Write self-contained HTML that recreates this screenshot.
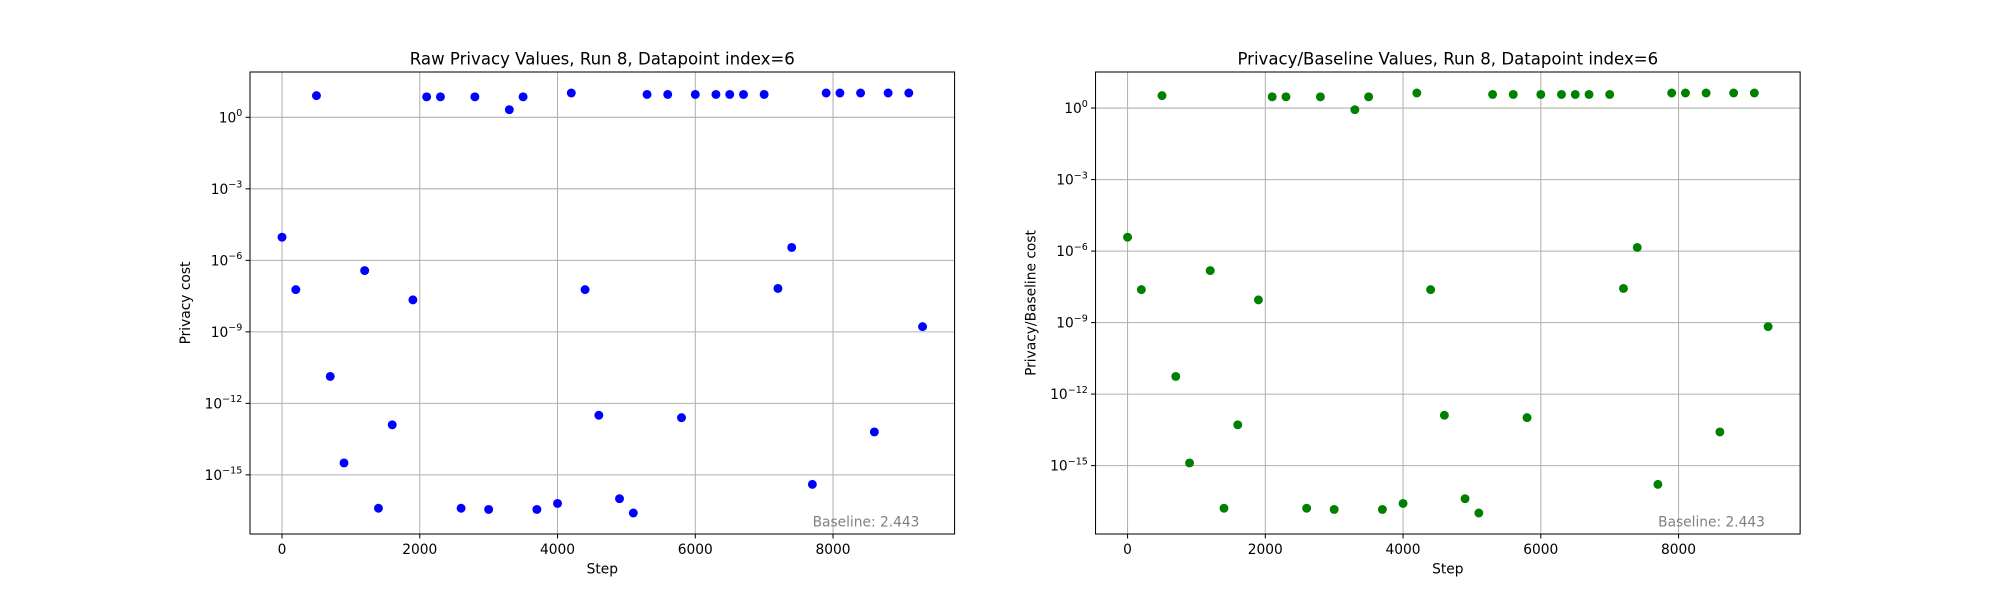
<!DOCTYPE html>
<html><head><meta charset="utf-8"><style>
html,body{margin:0;padding:0;background:#fff;}
svg{display:block;font-family:"DejaVu Sans","Liberation Sans",sans-serif;}
</style></head><body>
<svg id="fig" width="2000" height="600" viewBox="0 0 1568 470" preserveAspectRatio="none" xmlns="http://www.w3.org/2000/svg"></svg>
<script>
const steps = [0,200,500,700,900,1200,1400,1600,1900,2100,2300,2600,2800,3000,3300,3500,3700,4000,4200,4400,4600,4900,5100,5300,5600,5800,6000,6300,6500,6700,7000,7200,7400,7700,7900,8100,8400,8600,8800,9100,9300];
const rawLog10 = [-5.03,-7.23,0.91,-10.87,-14.5,-6.43,-16.4,-12.9,-7.66,0.86,0.86,-16.4,0.86,-16.45,0.32,0.86,-16.45,-16.2,1.02,-7.23,-12.5,-16.0,-16.6,0.96,0.96,-12.6,0.96,0.96,0.96,0.96,0.96,-7.18,-5.46,-15.4,1.02,1.02,1.02,-13.2,1.02,1.02,-8.78];
const baseline = 2.443;
const xTicks = [0,2000,4000,6000,8000];
const yTickExps = [0,-3,-6,-9,-12,-15];

const NS="http://www.w3.org/2000/svg";
const svg=document.getElementById('fig');
function mk(tag,attrs,parent){const e=document.createElementNS(NS,tag);for(const k in attrs)e.setAttribute(k,attrs[k]);(parent||svg).appendChild(e);return e;}

function drawPanel(prefix,left,title,ylabel,vals,color){
  const top=56.4,bottom=418.3,w=552.4,right=left+w;
  const xmin=Math.min(...steps),xmax=Math.max(...steps),xm=(xmax-xmin)*0.05;
  const ymin=Math.min(...vals),ymax=Math.max(...vals),ym=(ymax-ymin)*0.05;
  const X=v=>left+(v-(xmin-xm))/((xmax+xm)-(xmin-xm))*w;
  const Y=v=>bottom-(v-(ymin-ym))/((ymax+ym)-(ymin-ym))*(bottom-top);
  const g=mk('g',{});
  
  
  xTicks.forEach(t=>{
    const l=mk('line',{x1:X(t),x2:X(t),y1:top,y2:bottom,stroke:'#b0b0b0','stroke-width':0.8},g);
    
    mk('line',{x1:X(t),x2:X(t),y1:bottom,y2:bottom+3.5,stroke:'#000','stroke-width':0.8},g);
    const tx=mk('text',{x:X(t),y:bottom+15.5,'font-size':10.8,'text-anchor':'middle'},g);
    tx.textContent=t;
    
  });
  yTickExps.forEach(e=>{
    const y=Y(e);
    const l=mk('line',{x1:left,x2:right,y1:y,y2:y,stroke:'#b0b0b0','stroke-width':0.8},g);
    
    mk('line',{x1:left-3.5,x2:left,y1:y,y2:y,stroke:'#000','stroke-width':0.8},g);
    const tx=mk('text',{x:left-6,y:y+4,'font-size':10.8,'text-anchor':'end'},g);
    tx.innerHTML='10<tspan dy="-5" font-size="7.5">'+(e<0?'\u2212'+(-e):e)+'</tspan>';
    
  });
  steps.forEach((s,i)=>{
    const c=mk('circle',{cx:X(s),cy:Y(vals[i]),r:3.5,fill:color},g);
    
    
  });
  const fr=mk('rect',{x:left,y:top,width:w,height:bottom-top,fill:'none',stroke:'#000','stroke-width':0.8},g);
  
  const tt=mk('text',{x:left+w/2,y:top-6,'font-size':13,'text-anchor':'middle'},g);
  tt.textContent=title;
  const xl=mk('text',{x:left+w/2,y:bottom+31,'font-size':10.8,'text-anchor':'middle'},g);
  xl.textContent='Step';
  const yx=left-47,yy=(top+bottom)/2;
  const yl=mk('text',{x:yx,y:yy,'font-size':10.8,'text-anchor':'middle',transform:'rotate(-90 '+yx+' '+yy+')'},g);
  yl.textContent=ylabel;
  const bl=mk('text',{x:left+0.95*w,y:bottom-6,'font-size':10.8,'text-anchor':'end',fill:'#808080'},g);
  bl.textContent='Baseline: '+baseline.toFixed(3);
  
}
const ratioLog10 = rawLog10.map(v=>v-Math.log10(baseline));
drawPanel('raw',196,'Raw Privacy Values, Run 8, Datapoint index=6','Privacy cost',rawLog10,'#0000ff');
drawPanel('ratio',858.9,'Privacy/Baseline Values, Run 8, Datapoint index=6','Privacy/Baseline cost',ratioLog10,'#008000');
</script>
</body></html>
